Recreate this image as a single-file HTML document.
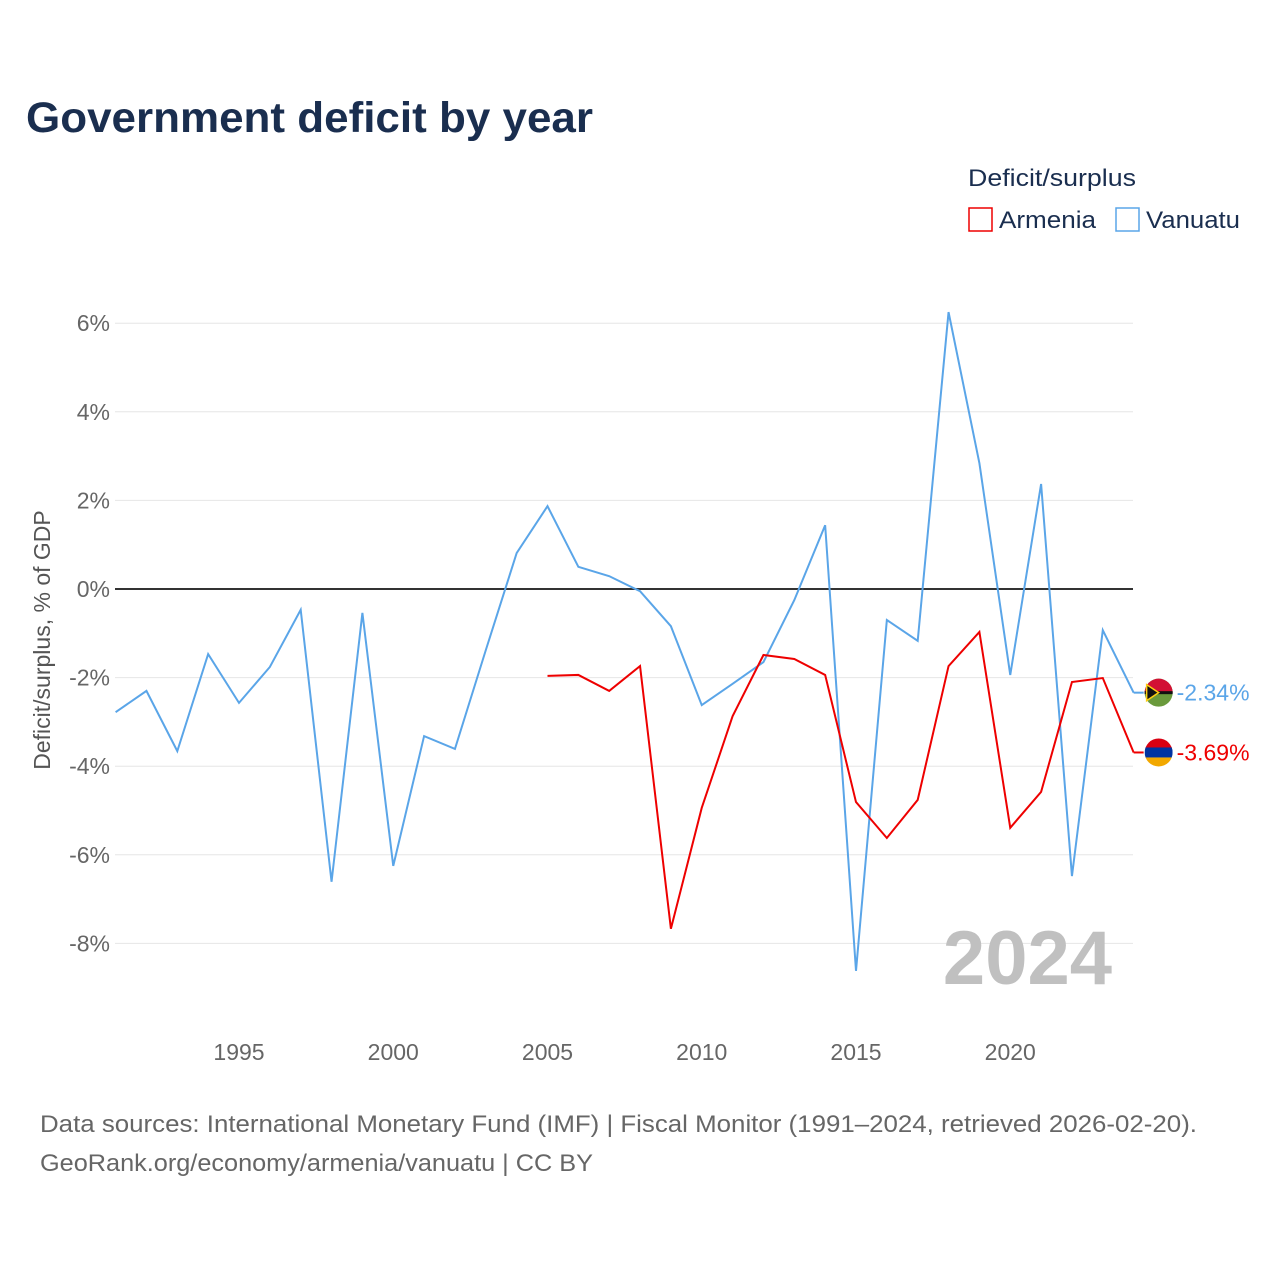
<!DOCTYPE html>
<html><head><meta charset="utf-8"><style>
body{margin:0;background:#fff;font-family:"Liberation Sans",sans-serif}
svg text{font-family:"Liberation Sans",sans-serif}
</style></head><body>
<svg id="chart" width="1280" height="1280" viewBox="0 0 1280 1280">
<text x="26" y="132" font-size="43" font-weight="bold" fill="#1a2e4f" textLength="567" lengthAdjust="spacingAndGlyphs">Government deficit by year</text>
<text x="968" y="186" font-size="24" fill="#1a2e4f" textLength="168" lengthAdjust="spacingAndGlyphs">Deficit/surplus</text>
<g><rect x="969" y="208" width="23" height="23" fill="none" stroke="#ee0000" stroke-width="1.5"/><text x="999" y="228" font-size="24" fill="#1a2e4f" textLength="97" lengthAdjust="spacingAndGlyphs">Armenia</text></g>
<g><rect x="1116" y="208" width="23" height="23" fill="none" stroke="#5aa5e8" stroke-width="1.5"/><text x="1146" y="228" font-size="24" fill="#1a2e4f" textLength="94" lengthAdjust="spacingAndGlyphs">Vanuatu</text></g>
<g id="grid"></g>
<g id="xt"></g>
<text x="1112" y="984" font-size="76" font-weight="bold" fill="#c0c0c0" text-anchor="end">2024</text>
<text transform="translate(50,640) rotate(-90)" font-size="23" fill="#555" text-anchor="middle">Deficit/surplus, % of GDP</text>
<g id="series"></g>
<text x="40" y="1132" font-size="24" fill="#666" textLength="1157" lengthAdjust="spacingAndGlyphs">Data sources: International Monetary Fund (IMF) | Fiscal Monitor (1991–2024, retrieved 2026-02-20).</text>
<text x="40" y="1171" font-size="24" fill="#666" textLength="553" lengthAdjust="spacingAndGlyphs">GeoRank.org/economy/armenia/vanuatu | CC BY</text>
</svg>
<script>
const years=[];for(let y=1991;y<=2024;y++)years.push(y);
const vanuatu=[-2.78,-2.30,-3.66,-1.47,-2.57,-1.76,-0.47,-6.61,-0.54,-6.25,-3.32,-3.61,-1.38,0.81,1.87,0.50,0.29,-0.05,-0.84,-2.62,-2.14,-1.65,-0.25,1.44,-8.62,-0.70,-1.17,6.25,2.84,-1.94,2.37,-6.48,-0.93,-2.34];
const armeniaYears=[2005,2006,2007,2008,2009,2010,2011,2012,2013,2014,2015,2016,2017,2018,2019,2020,2021,2022,2023,2024];
const armenia=[-1.96,-1.94,-2.30,-1.74,-7.67,-4.94,-2.87,-1.49,-1.58,-1.94,-4.81,-5.62,-4.76,-1.74,-0.97,-5.39,-4.58,-2.10,-2.01,-3.69];
const yTicks=[6,4,2,0,-2,-4,-6,-8];
const xTicks=[1995,2000,2005,2010,2015,2020];
const X=y=>115.6+(y-1991)*30.85, Y=v=>589-v*44.3;
const NS='http://www.w3.org/2000/svg';
function mk(t,a,p){const e=document.createElementNS(NS,t);for(const k in a)e.setAttribute(k,a[k]);p.appendChild(e);return e;}
const g=document.getElementById('grid');
yTicks.forEach(v=>{
 const l=mk('line',{x1:115,x2:1133,y1:Y(v),y2:Y(v),stroke:v==0?'#333':'#e6e6e6','stroke-width':v==0?2:1},g);
 
 
 const t=mk('text',{x:110,y:Y(v)+8,'font-size':23,fill:'#666','text-anchor':'end'},g);t.textContent=v+'%';
 
 
});
const xt=document.getElementById('xt');
xTicks.forEach(v=>{const t=mk('text',{x:X(v),y:1060,'font-size':23,fill:'#666','text-anchor':'middle'},xt);t.textContent=v;
 
 });
const s=document.getElementById('series');
function line(xs,vs,c,name){const p=mk('polyline',{points:xs.map((x,i)=>X(x)+','+Y(vs[i])).join(' '),fill:'none',stroke:c,'stroke-width':2},s);
 
 
 const lx=X(xs[xs.length-1]),ly=Y(vs[vs.length-1]);
 mk('line',{x1:lx,x2:lx+10,y1:ly,y2:ly,stroke:c,'stroke-width':2},s);
 const t=mk('text',{x:lx+43,y:ly+8,'font-size':23,fill:c},s);t.textContent=vs[vs.length-1].toFixed(2)+'%';
 
 
 return [lx+25,ly];}
const [vx,vy]=line(years,vanuatu,'#5aa5e8','vanuatu-line');
const [ax,ay]=line(armeniaYears,armenia,'#ee0000','armenia-line');
const fv=mk('g',{},s);
mk('circle',{cx:vx,cy:vy,r:14,fill:'#6a9a3c'},fv);
mk('path',{d:`M${vx-14} ${vy} A14 14 0 0 1 ${vx+14} ${vy} Z`,fill:'#d21034'},fv);
mk('rect',{x:vx-14,y:vy-1.5,width:28,height:3,fill:'#111'},fv);
mk('path',{d:`M${vx-12} ${vy-8} L${vx} ${vy} L${vx-12} ${vy+8} Z`,fill:'#111',stroke:'#fdce12','stroke-width':1.5},fv);
const fa=mk('g',{},s);
mk('clipPath',{id:'ac'},fa);mk('circle',{cx:ax,cy:ay,r:14},document.getElementById('ac'));
const ag=mk('g',{'clip-path':'url(#ac)'},fa);
mk('rect',{x:ax-14,y:ay-14,width:28,height:10,fill:'#d90012'},ag);
mk('rect',{x:ax-14,y:ay-5,width:28,height:10,fill:'#0033a0'},ag);
mk('rect',{x:ax-14,y:ay+5,width:28,height:10,fill:'#f2a800'},ag);
</script>
</body></html>
